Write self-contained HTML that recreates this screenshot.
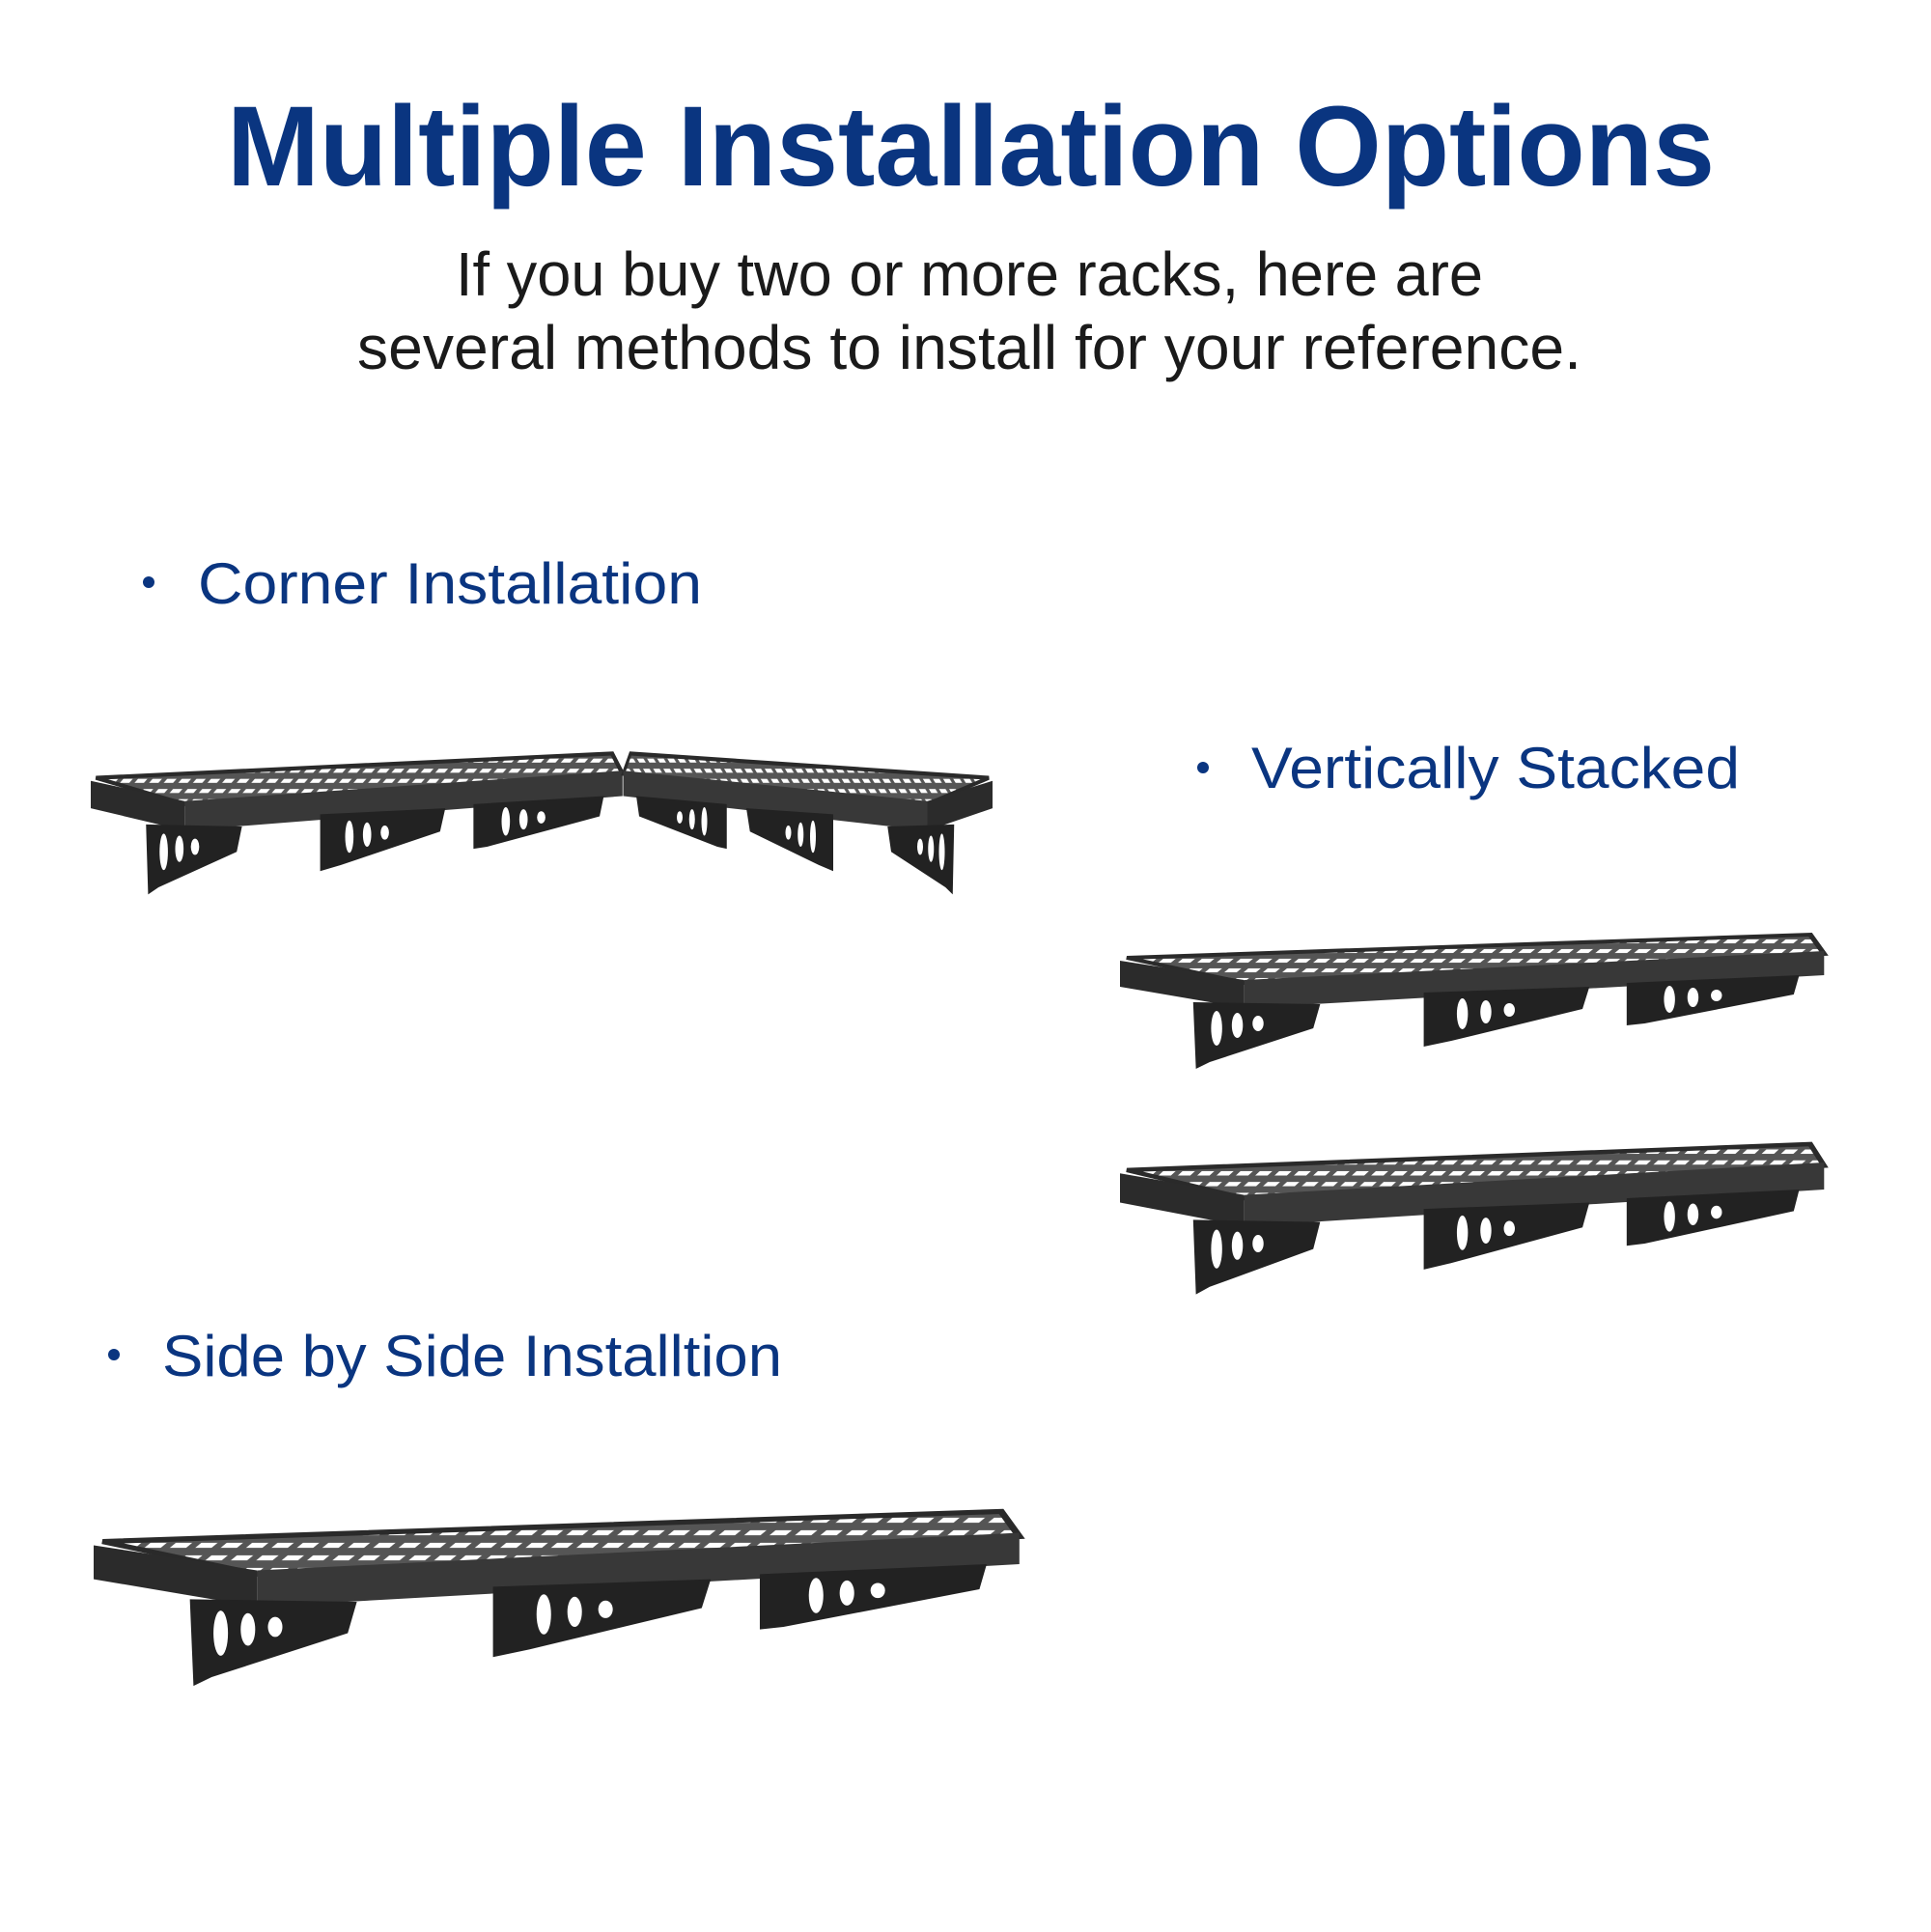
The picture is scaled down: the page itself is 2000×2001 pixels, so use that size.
<!DOCTYPE html>
<html><head><meta charset="utf-8"><style>html,body{margin:0;padding:0;background:#fff}svg{display:block}</style></head>
<body>
<svg width="2000" height="2001" viewBox="0 0 2000 2001" xmlns="http://www.w3.org/2000/svg">
<defs>
<pattern id="grid" width="14" height="10" patternUnits="userSpaceOnUse" patternTransform="skewX(-40)">
<rect width="14" height="10" fill="#555"/>
<rect x="3" y="3" width="9" height="4" fill="#fff"/>
</pattern>
<g id="shelf">
<polygon points="5,32 500,8 510,28 90,58" fill="url(#grid)" stroke="#2a2a2a" stroke-width="4"/>
<polygon points="0,35 90,55 90,84 0,62" fill="#2b2b2b"/>
<polygon points="90,55 510,25 510,50 90,84" fill="#383838"/>
<polygon points="53,78 145,80 140,105 65,140 55,147" fill="#222"/>
<ellipse cx="70" cy="105" rx="4" ry="18" fill="#fff"/><ellipse cx="85" cy="102" rx="4" ry="13" fill="#fff"/><ellipse cx="100" cy="100" rx="4" ry="8" fill="#fff"/>
<polygon points="220,68 340,62 335,85 240,118 220,124" fill="#222"/>
<ellipse cx="248" cy="90" rx="4" ry="16" fill="#fff"/><ellipse cx="265" cy="88" rx="4" ry="12" fill="#fff"/><ellipse cx="282" cy="86" rx="4" ry="7" fill="#fff"/>
<polygon points="367,58 492,50 488,70 380,100 367,102" fill="#222"/>
<ellipse cx="398" cy="75" rx="4" ry="14" fill="#fff"/><ellipse cx="415" cy="73" rx="4" ry="10" fill="#fff"/><ellipse cx="432" cy="71" rx="4" ry="6" fill="#fff"/>
</g>
</defs>
<g fill="#0a3580" font-family="Liberation Sans, sans-serif">
<text x="235" y="192" font-size="118" font-weight="bold" textLength="1541" lengthAdjust="spacingAndGlyphs">Multiple Installation Options</text>
</g>
<g fill="#1a1a1a" font-family="Liberation Sans, sans-serif" font-size="64">
<text x="472" y="306" textLength="1064" lengthAdjust="spacingAndGlyphs">If you buy two or more racks, here are</text>
<text x="370" y="382" textLength="1268" lengthAdjust="spacingAndGlyphs">several methods to install for your reference.</text>
</g>
<g fill="#0a3580" font-family="Liberation Sans, sans-serif" font-size="60">
<circle cx="154" cy="603" r="6"/><text x="205" y="625" textLength="522" lengthAdjust="spacingAndGlyphs">Corner Installation</text>
<circle cx="1246" cy="795" r="6"/><text x="1296" y="816" textLength="506" lengthAdjust="spacingAndGlyphs">Vertically Stacked</text>
<circle cx="118" cy="1403" r="6"/><text x="168" y="1425" textLength="642" lengthAdjust="spacingAndGlyphs">Side by Side Installtion</text>
</g>
<use href="#shelf" transform="translate(1160,960) scale(1.43,1)"/>
<use href="#shelf" transform="translate(1160,1176) scale(1.43,1.12)"/>
<use href="#shelf" transform="translate(94,772) scale(1.08,1.05)"/>
<use href="#shelf" transform="translate(1028,772) scale(-0.75,1.05)"/>
<use href="#shelf" transform="translate(97,1555) scale(1.88,1.3)"/>
</svg>
</body></html>
